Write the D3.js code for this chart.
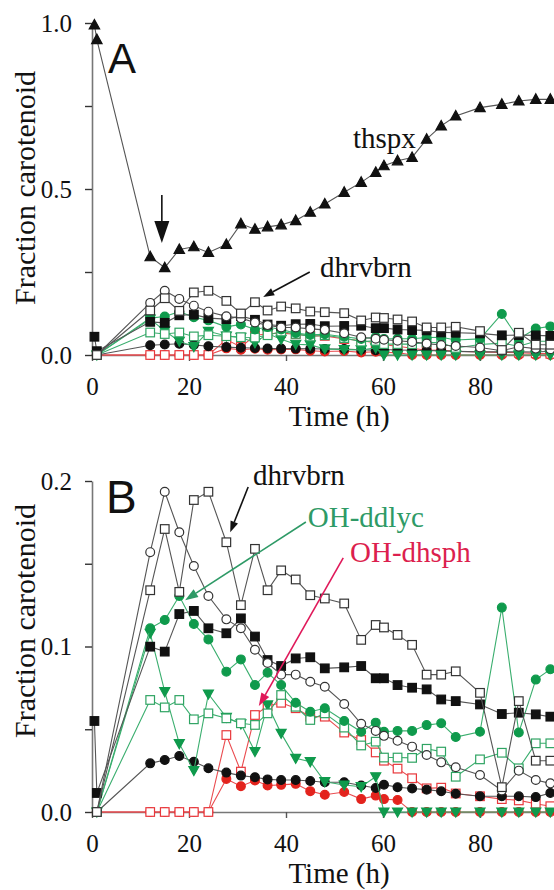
<!DOCTYPE html>
<html><head><meta charset="utf-8">
<script src="https://cdn.jsdelivr.net/npm/d3@7"></script>
<style>body{margin:0;background:#fff}svg{display:block}.serif{font-family:"Liberation Serif","Times New Roman",Tinos,serif}.sans{font-family:"Liberation Sans",Arial,sans-serif}</style>
</head><body>
<script>
// ---- data ----
const times   = [0.5, 1, 12, 15, 18, 21, 24, 27.7, 30.7, 33.6, 36.2, 39, 42, 45, 48, 52, 55.5, 58.5, 60.2, 63, 66, 69, 72, 75, 80, 84.5, 88, 91.5, 94.5];
const thspx   = [0.994, 0.95, 0.296, 0.263, 0.318, 0.326, 0.309, 0.333, 0.395, 0.379, 0.386, 0.392, 0.405, 0.43, 0.455, 0.49, 0.52, 0.55, 0.57, 0.585, 0.595, 0.65, 0.69, 0.72, 0.745, 0.755, 0.765, 0.77, 0.77];
const dhrvbrn = [null, 0, 0.134, 0.171, 0.133, 0.1885, 0.1935, 0.163, 0.125, 0.159, 0.134, 0.146, 0.1405, 0.131, 0.129, 0.126, 0.104, 0.113, 0.1115, 0.107, 0.101, 0.083, 0.083, 0.085, 0.072, 0.015, 0.067, 0.031, 0.031];
const openCirc = [null, 0, 0.157, 0.1935, 0.169, 0.1486, 0.1305, 0.1164, 0.111, 0.098, 0.09, 0.083, 0.083, 0.0787, 0.0757, 0.0653, 0.0533, 0.049, 0.046, 0.043, 0.0395, 0.0344, 0.030, 0.027, 0.0224, 0.013, 0.025, 0.0193, 0.0173];
const blackSq  = [0.055, 0.0115, 0.0999, 0.0969, 0.1196, 0.1215, 0.111, 0.108, 0.117, 0.106, 0.0918, 0.0882, 0.0928, 0.0935, 0.0868, 0.0874, 0.0882, 0.0808, 0.0808, 0.0767, 0.0751, 0.0741, 0.068, 0.067, 0.065, 0.0592, 0.060, 0.059, 0.0576];
const blackCirc= [null, 0, 0.0294, 0.0314, 0.0338, 0.0304, 0.0264, 0.0238, 0.022, 0.021, 0.0197, 0.0193, 0.0193, 0.0187, 0.018, 0.018, 0.016, 0.0145, 0.0165, 0.015, 0.0142, 0.0135, 0.0125, 0.011, 0.0095, 0.0095, 0.0095, 0.009, 0.0115];
const ohDdlyc  = [null, 0, 0.111, 0.116, 0.1305, 0.1136, 0.1043, 0.0848, 0.0922, 0.0767, 0.0842, 0.0767, 0.066, 0.0606, 0.0627, 0.055, 0.0485, 0.054, 0.0485, 0.049, 0.049, 0.0525, 0.0536, 0.0453, 0.0485, 0.1235, 0.048, 0.080, 0.0862];
const greenSq  = [null, 0, 0.0677, 0.0632, 0.0677, 0.056, 0.0596, 0.0566, 0.0536, 0.0526, 0.0596, 0.0707, 0.0636, 0.0556, 0.0596, 0.051, 0.0402, 0.0425, 0.0329, 0.0329, 0.0327, 0.0382, 0.0365, 0.0213, 0.0318, 0.0358, 0.0264, 0.0415, 0.0415];
const greenTri = [null, 0, 0.108, 0.0727, 0.0413, 0.025, 0.0713, 0.0572, 0.0532, 0.0365, 0.0647, 0.0475, 0.0324, 0.0304, 0.0183, 0.0163, 0.0153, 0.0213, 0, 0, 0, 0, 0, 0, 0, 0, 0, 0, 0];
const ohDhsph  = [null, 0, 0, 0, 0, 0, 0, 0.0465, 0.0244, 0.0586, 0.064, 0.066, 0.0627, 0.0576, 0.0576, 0.048, 0.0435, 0.036, 0.031, 0.0262, 0.0204, 0.0143, 0.0147, 0.0112, 0.0095, 0.0078, 0.007, 0.005, 0.0035];
const redCirc  = [null, 0, 0, 0, 0, 0, 0, 0.020, 0.0156, 0.019, 0.016, 0.0164, 0.017, 0.0126, 0.0104, 0.0121, 0.0078, 0.0099, 0.0078, 0.0073, 0, 0, 0, 0, 0, 0, 0, 0, 0];

const xTickValues = [0, 20, 40, 60, 80];
const yMajorA = [0, 0.5, 1.0], yMinorA = [0.25, 0.75];
const yMajorB = [0, 0.1, 0.2], yMinorB = [0.05, 0.15];

// ---- styles ----
const BLK = "#111", GRAYLINE = "#555", GRN = "#0f9a4c", GRNLINE = "#3aae6e", RED = "#e3231d", REDLINE = "#ea4b4f";
const series = [
  {v: redCirc,  m: "circ", fill: RED,   stroke: RED,   line: REDLINE},
  {v: ohDhsph,  m: "sq",   fill: "#fff", stroke: "#e8383c", line: REDLINE},
  {v: blackCirc,m: "circ", fill: BLK,   stroke: BLK,   line: GRAYLINE},
  {v: greenTri, m: "tri",  fill: GRN,   stroke: GRN,   line: GRNLINE},
  {v: greenSq,  m: "sq",   fill: "#fff", stroke: "#2fa463", line: GRNLINE},
  {v: ohDdlyc,  m: "circ", fill: GRN,   stroke: GRN,   line: GRNLINE},
  {v: blackSq,  m: "sq",   fill: BLK,   stroke: BLK,   line: GRAYLINE},
  {v: openCirc, m: "circ", fill: "#fff", stroke: "#333", line: GRAYLINE},
  {v: dhrvbrn,  m: "sq",   fill: "#fff", stroke: "#333", line: GRAYLINE},
];
const thspxSeries = {v: thspx, m: "triup", fill: BLK, stroke: BLK, line: GRAYLINE};

const W = 554, H = 890;
const svg = d3.select("body").append("svg").attr("width", W).attr("height", H);
const x = d3.scaleLinear().domain([0, 100]).range([92, 92 + 485]);
const yA = d3.scaleLinear().domain([0, 1]).range([355, 23]);
const yB = d3.scaleLinear().domain([0, 0.2]).range([812, 481]);

function serifText(sel, size, color) {
  return sel.attr("class", "serif").attr("font-family", null).style("font-size", size + "px").attr("fill", color || "#111");
}

function drawAxes(y, major, minor, titleCY) {
  const g = svg.append("g");
  const yAx = g.append("g").attr("transform", `translate(${x(0)},0)`)
    .call(d3.axisLeft(y).tickValues(major).tickFormat(d3.format(".1f")).tickSize(7).tickSizeOuter(0).tickPadding(13));
  yAx.attr("font-family", null).attr("font-size", null);
  yAx.select(".domain").attr("stroke", "#777").attr("stroke-width", 1.6);
  yAx.selectAll(".tick line").attr("stroke", "#333").attr("stroke-width", 1.4);
  serifText(yAx.selectAll(".tick text"), 25);
  const yMin = g.append("g").attr("transform", `translate(${x(0)},0)`)
    .call(d3.axisLeft(y).tickValues(minor).tickFormat("").tickSize(7).tickSizeOuter(0));
  yMin.select(".domain").remove();
  yMin.selectAll(".tick line").attr("stroke", "#333").attr("stroke-width", 1.4);

  const xAx = g.append("g").attr("transform", `translate(0,${y(0)})`)
    .call(d3.axisBottom(x).tickValues(xTickValues).tickFormat(d3.format("d")).tickSize(6).tickSizeOuter(0));
  xAx.attr("font-family", null).attr("font-size", null);
  xAx.select(".domain").attr("stroke", "#777").attr("stroke-width", 1.6);
  xAx.selectAll(".tick line").attr("stroke", "#555").attr("stroke-width", 1.4);
  serifText(xAx.selectAll(".tick text"), 25).attr("y", 31).attr("dy", "0.35em");

  serifText(g.append("text"), 30).attr("transform", `translate(35,${titleCY}) rotate(-90)`)
    .attr("text-anchor", "middle").text("Fraction carotenoid");
  serifText(g.append("text"), 29).attr("x", 339).attr("y", y(0) + 71)
    .attr("text-anchor", "middle").text("Time (h)");
}

function marker(sel, m) {
  if (m === "circ") return sel.append("circle").attr("r", 4.4);
  if (m === "sq") return sel.append("rect").attr("x", -4.3).attr("y", -4.3).attr("width", 8.6).attr("height", 8.6);
  if (m === "tri") return sel.append("path").attr("d", "M-5,-4L5,-4L0,5Z");
  return sel.append("path").attr("d", "M0,-5.5L5.2,4L-5.2,4Z");
}

function drawSeries(g, s, y) {
  const pts = times.map((t, i) => ({t, v: s.v[i]})).filter(d => d.v !== null);
  g.append("path").datum(pts)
    .attr("d", d3.line().x(d => x(d.t)).y(d => y(d.v)))
    .attr("fill", "none").attr("stroke", s.line).attr("stroke-width", 1.1);
  const mg = g.selectAll(null).data(pts).enter().append("g")
    .attr("transform", d => `translate(${x(d.t)},${y(d.v)})`);
  marker(mg, s.m).attr("fill", s.fill).attr("stroke", s.stroke).attr("stroke-width", 1.2);
}

function arrow(g, x1, y1, x2, y2, color, len, w) {
  const ang = Math.atan2(y2 - y1, x2 - x1);
  const bx = x2 - len * Math.cos(ang), by = y2 - len * Math.sin(ang);
  g.append("line").attr("x1", x1).attr("y1", y1).attr("x2", bx).attr("y2", by)
    .attr("stroke", color).attr("stroke-width", 1.6);
  const px = -Math.sin(ang) * w / 2, py = Math.cos(ang) * w / 2;
  g.append("path").attr("d", `M${x2},${y2}L${bx + px},${by + py}L${bx - px},${by - py}Z`).attr("fill", color);
}

// ---- Panel A ----
drawAxes(yA, yMajorA, yMinorA, 188);
const gA = svg.append("g");
series.forEach(s => drawSeries(gA, s, yA));
drawSeries(gA, thspxSeries, yA);
svg.append("text").attr("class", "sans").attr("x", 108).attr("y", 73).style("font-size", "42px").attr("fill", "#111").text("A");
serifText(svg.append("text"), 29).attr("x", x(53.8)).attr("y", yA(0.622)).text("thspx");
serifText(svg.append("text"), 29).attr("x", x(47.0)).attr("y", yA(0.235)).text("dhrvbrn");
arrow(svg, x(14.4), yA(0.482), x(14.4), yA(0.337), "#111", 22, 15);
arrow(svg, x(44.9), yA(0.25), x(35.3), yA(0.175), "#111", 11, 8);

// ---- Panel B ----
drawAxes(yB, yMajorB, yMinorB, 621);
svg.append("clipPath").attr("id", "clipB").append("rect").attr("x", 0).attr("y", 470).attr("width", W).attr("height", 360);
const gB = svg.append("g").attr("clip-path", "url(#clipB)");
series.forEach(s => drawSeries(gB, s, yB));
svg.append("text").attr("class", "sans").attr("x", 106).attr("y", 513).style("font-size", "46px").attr("fill", "#111").text("B");
serifText(svg.append("text"), 29).attr("x", x(33.2)).attr("y", yB(0.1976)).text("dhrvbrn");
serifText(svg.append("text"), 29, "#2e9a66").attr("x", x(44.5)).attr("y", yB(0.172)).text("OH-ddlyc");
serifText(svg.append("text"), 29, "#dc1f4e").attr("x", x(53.2)).attr("y", yB(0.151)).text("OH-dhsph");
arrow(svg, x(32.2), yB(0.1964), x(28.5), yB(0.169), "#111", 11, 8);
arrow(svg, x(44.1), yB(0.1752), x(19.2), yB(0.128), "#2e9a66", 13, 9);
arrow(svg, x(51.8), yB(0.1535), x(34.4), yB(0.064), "#e0195a", 13, 9);
</script>
</body></html>
